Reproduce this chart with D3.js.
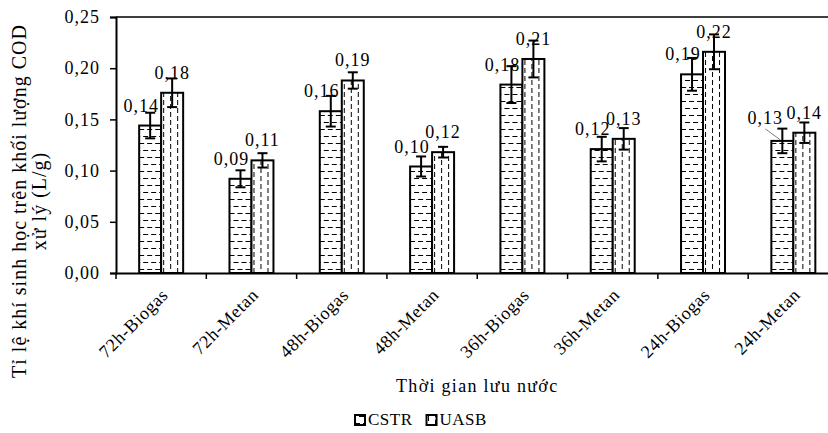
<!DOCTYPE html>
<html>
<head>
<meta charset="utf-8">
<script src="https://cdn.jsdelivr.net/npm/d3@7"></script>
<style>
  body { margin: 0; background: #fff; }
  text { font-family: "Liberation Serif", "Times New Roman", serif; fill: #000; }
</style>
</head>
<body>
<svg id="chart"></svg>
<script>
// data
var categories = ["72h-Biogas", "72h-Metan", "48h-Biogas", "48h-Metan",
                  "36h-Biogas", "36h-Metan", "24h-Biogas", "24h-Metan"];
var seriesNames = ["CSTR", "UASB"];
var cstrValues = [0.144, 0.092, 0.158, 0.104, 0.184, 0.121, 0.194, 0.129];
var uasbValues = [0.176, 0.110, 0.188, 0.118, 0.209, 0.131, 0.216, 0.137];
var cstrErrors = [0.0125, 0.0083, 0.015, 0.0098, 0.018, 0.012, 0.016, 0.012];
var uasbErrors = [0.014, 0.007, 0.008, 0.0052, 0.018, 0.0105, 0.017, 0.010];
var yTicks = [0, 0.05, 0.10, 0.15, 0.20, 0.25];
var yTitleLines = ["Tỉ lệ khí sinh học trên khối lượng COD", "xử lý (L/g)"];
var xTitle = "Thời gian lưu nước";

var width = 828, height = 433;
var x0 = 116, x1 = 838.5, yTop = 17, yBottom = 273;

var svg = d3.select("#chart").attr("width", width).attr("height", height);

var fmt = function (v) { return d3.format(".2f")(v).replace(".", ","); };

var rows = categories.map(function (c, i) {
  return {
    cat: c,
    bars: [
      { s: "CSTR", v: cstrValues[i], e: cstrErrors[i] },
      { s: "UASB", v: uasbValues[i], e: uasbErrors[i] }
    ]
  };
});

var x = d3.scaleBand().domain(categories).range([x0, x1])
  .paddingInner(0.513).paddingOuter(0.2565);
var xs = d3.scaleBand().domain(seriesNames).range([0, x.bandwidth()]);
var y = d3.scaleLinear().domain([0, 0.25]).range([yBottom, yTop]);

/* patterns */
var defs = svg.append("defs");
var hp = defs.append("pattern").attr("id", "patCSTR")
  .attr("patternUnits", "userSpaceOnUse").attr("width", 8).attr("height", 14);
hp.append("rect").attr("width", 8).attr("height", 14).attr("fill", "#fff");
hp.append("path").attr("d", "M0,3.5H5 M4,10.5H8 M0,10.5H1")
  .attr("stroke", "#000").attr("stroke-width", 1);

var vp = defs.append("pattern").attr("id", "patUASB")
  .attr("patternUnits", "userSpaceOnUse").attr("width", 14).attr("height", 8);
vp.append("rect").attr("width", 14).attr("height", 8).attr("fill", "#fff");
vp.append("path").attr("d", "M3.5,0V5 M10.5,4V8 M10.5,0V1")
  .attr("stroke", "#000").attr("stroke-width", 1);

var fillFor = { CSTR: "url(#patCSTR)", UASB: "url(#patUASB)" };

/* frame top line */
svg.append("line")
  .attr("x1", x0).attr("x2", x1).attr("y1", yTop).attr("y2", yTop)
  .attr("stroke", "#000").attr("stroke-width", 1.5);

/* y axis */
var yAxis = d3.axisLeft(y).tickValues(yTicks).tickSize(6).tickPadding(10)
  .tickFormat(fmt);
var gy = svg.append("g").attr("transform", "translate(" + x0 + ",0)").call(yAxis);
gy.select(".domain").attr("stroke-width", 2);
gy.selectAll(".tick line").attr("stroke-width", 1.5);
gy.selectAll(".tick text").style("font-family", "Liberation Serif")
  .style("font-size", "18px").style("letter-spacing", "1px");

/* bars */
var groups = svg.append("g").selectAll("g").data(rows).enter().append("g")
  .attr("transform", function (d) { return "translate(" + x(d.cat) + ",0)"; });

groups.selectAll("rect").data(function (d) { return d.bars; }).enter().append("rect")
  .attr("x", function (d) { return xs(d.s); })
  .attr("width", xs.bandwidth())
  .attr("y", function (d) { return y(d.v); })
  .attr("height", function (d) { return y(0) - y(d.v); })
  .attr("fill", function (d) { return fillFor[d.s]; })
  .attr("stroke", "#000").attr("stroke-width", 2);

/* error bars */
var eb = groups.selectAll("g.err").data(function (d) { return d.bars; }).enter()
  .append("g").attr("class", "err")
  .attr("transform", function (d) { return "translate(" + (xs(d.s) + xs.bandwidth() / 2) + ",0)"; })
  .attr("stroke", "#000").attr("stroke-width", 2);
eb.append("line").attr("x1", 0).attr("x2", 0)
  .attr("y1", function (d) { return y(d.v + d.e); })
  .attr("y2", function (d) { return y(d.v - d.e); });
eb.append("line").attr("x1", -5).attr("x2", 5)
  .attr("y1", function (d) { return y(d.v + d.e); })
  .attr("y2", function (d) { return y(d.v + d.e); });
eb.append("line").attr("x1", -5).attr("x2", 5)
  .attr("y1", function (d) { return y(d.v - d.e); })
  .attr("y2", function (d) { return y(d.v - d.e); });

/* x axis */
var xAxis = d3.axisBottom(x).tickSize(0).tickFormat("");
var gx = svg.append("g").attr("transform", "translate(0," + yBottom + ")").call(xAxis);
gx.select(".domain").attr("stroke-width", 2);
var step = x.step();
gx.selectAll("line.sep").data(d3.range(categories.length + 1)).enter().append("line")
  .attr("class", "sep")
  .attr("x1", function (i) { return x0 + i * step; })
  .attr("x2", function (i) { return x0 + i * step; })
  .attr("y1", 0).attr("y2", 6)
  .attr("stroke", "#000").attr("stroke-width", 1.5);

svg.append("g").selectAll("text").data(categories).enter().append("text")
  .attr("transform", function (d) {
    return "translate(" + (x(d) + x.bandwidth() / 2 + 8) + "," + 296 + ") rotate(-45)";
  })
  .attr("text-anchor", "end")
  .style("font-size", "18px").style("letter-spacing", "0.6px")
  .text(function (d) { return d; });

/* data labels */
var nudge = { CSTR: -9, UASB: 0 };
groups.selectAll("text.lab").data(function (d, i) {
    return d.bars.map(function (b) { return { s: b.s, v: b.v, last: i === categories.length - 1 }; });
  }).enter().append("text").attr("class", "lab")
  .attr("x", function (d) {
    return xs(d.s) + xs.bandwidth() / 2 + nudge[d.s] + (d.last && d.s === "CSTR" ? -8 : 0);
  })
  .attr("y", function (d) { return y(d.v) - 14 - (d.last && d.s === "CSTR" ? 3 : 0); })
  .attr("text-anchor", "middle")
  .style("font-size", "18px").style("letter-spacing", "1px")
  .text(function (d) { return fmt(d.v); });

// leader line for the shifted last CSTR label
var lastCat = categories[categories.length - 1];
svg.append("line")
  .attr("x1", x(lastCat) + xs("CSTR") - 6).attr("y1", y(cstrValues[7]) - 12)
  .attr("x2", x(lastCat) + xs("CSTR") + 9).attr("y2", y(cstrValues[7]) - 1)
  .attr("stroke", "#7f7f7f").attr("stroke-width", 1);

/* axis titles */
var yt = svg.append("text")
  .attr("transform", "translate(0,201) rotate(-90)")
  .attr("text-anchor", "middle")
  .style("font-size", "20px").style("letter-spacing", "1px");
yt.selectAll("tspan").data(yTitleLines).enter().append("tspan")
  .attr("x", 0).attr("y", function (d, i) { return 26 + i * 20; })
  .text(function (d) { return d; });

svg.append("text")
  .attr("x", (x0 + x1) / 2).attr("y", 392)
  .attr("text-anchor", "middle")
  .style("font-size", "18px").style("letter-spacing", "1.3px")
  .text(xTitle);

/* legend */
var legend = svg.append("g").attr("transform", "translate(355,0)");
var lx = 0;
seriesNames.forEach(function (s) {
  legend.append("rect").attr("x", lx).attr("y", 415).attr("width", 10).attr("height", 10)
    .attr("fill", fillFor[s]).attr("stroke", "#000").attr("stroke-width", 2);
  var t = legend.append("text").attr("x", lx + 13).attr("y", 425)
    .style("font-size", "17px").style("letter-spacing", "0.5px").text(s);
  lx += 13 + t.node().getComputedTextLength() + 14;
});
</script>
</body>
</html>
